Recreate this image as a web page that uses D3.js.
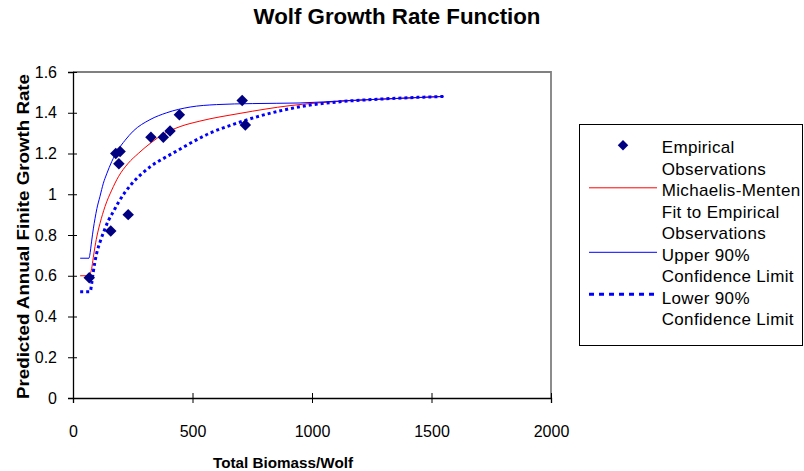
<!DOCTYPE html>
<html>
<head>
<meta charset="utf-8">
<script src="https://cdn.jsdelivr.net/npm/d3@7/dist/d3.min.js"></script>
<style>
    body { margin: 0; background: #fff; }
    text { font-family: Arial, "Liberation Sans", sans-serif; fill: #000; }
</style>
</head>
<body>
<svg id="SVG_CONTAINER" width="804" height="471"></svg>
<script>
let d3 = window.d3;

// observed points
const obsX = [68, 158, 231, 179, 197, 192, 326, 378, 406, 445, 708, 721];
const obsY = [0.59, 0.82, 0.90, 1.20, 1.21, 1.15, 1.28, 1.28, 1.31, 1.39, 1.46, 1.34];

// Michaelis-Menten fit (red)
const fitX = [30, 68, 72, 78, 85, 92, 103, 113, 134, 162, 190, 231, 273, 329, 378, 448, 531, 699, 908, 1117, 1350, 1550];
const fitY = [0.60, 0.60, 0.61, 0.635, 0.69, 0.743, 0.81, 0.857, 0.94, 1.02, 1.086, 1.152, 1.20, 1.255, 1.295, 1.332, 1.359, 1.397, 1.435, 1.456, 1.47, 1.48];

// upper 90% limit (blue)
const upX = [30, 67, 70, 78, 85, 92, 100, 113, 127, 141, 162, 187, 218, 252, 322, 392, 490, 600, 750, 950, 1150, 1350, 1550];
const upY = [0.686, 0.686, 0.70, 0.77, 0.83, 0.88, 0.93, 0.99, 1.054, 1.10, 1.16, 1.215, 1.265, 1.31, 1.366, 1.40, 1.428, 1.44, 1.445, 1.448, 1.46, 1.47, 1.48];

// lower 90% limit (dotted)
const loX = [30, 72, 78, 85, 92, 99, 113, 130, 148, 169, 190, 218, 245, 287, 329, 385, 441, 490, 573, 671, 769, 880, 978, 1117, 1300, 1550];
const loY = [0.522, 0.522, 0.56, 0.62, 0.67, 0.71, 0.765, 0.82, 0.87, 0.915, 0.96, 1.01, 1.05, 1.10, 1.14, 1.18, 1.217, 1.25, 1.30, 1.343, 1.38, 1.413, 1.435, 1.454, 1.468, 1.48];

const xTicks = [0, 500, 1000, 1500, 2000];
const yTicks = [0, 0.2, 0.4, 0.6, 0.8, 1, 1.2, 1.4, 1.6];

const legendLabels = [
    ["Empirical", "Observations"],
    ["Michaelis-Menten", "Fit to Empirical", "Observations"],
    ["Upper 90%", "Confidence Limit"],
    ["Lower 90%", "Confidence Limit"]
];

const MARGIN = {
    "LEFT": 73,
    "RIGHT": 253,
    "TOP": 72,
    "BOTTOM": 73,
};

const   width  = 804,
        height = 471;

let svg = d3.select("#SVG_CONTAINER");

let xScale = d3.scaleLinear()
    .domain([0, 2000])
    .range([MARGIN.LEFT, width - MARGIN.RIGHT]);

let yScale = d3.scaleLinear()
    .domain([0, 1.6])
    .range([height - MARGIN.BOTTOM, MARGIN.TOP]);

//title
svg.append("text")
    .attr("x", 397)
    .attr("y", 24)
    .attr("text-anchor", "middle")
    .attr("textLength", 287)
    .attr("lengthAdjust", "spacingAndGlyphs")
    .style("font-size", "22px")
    .style("font-weight", "bold")
    .text("Wolf Growth Rate Function");

//plot frame (top + right)
svg.append("path")
    .attr("d", `M${xScale(0)},${yScale(1.6)}H${xScale(2000)}V${yScale(0)}`)
    .attr("fill", "none")
    .attr("stroke", "#808080")
    .attr("stroke-width", 1.8);

//x axis
let xAxis = svg.append("g")
    .attr("transform", `translate(0, ${yScale(0)})`)
    .call(d3.axisBottom(xScale).tickValues(xTicks).tickSize(5).tickPadding(23).tickFormat(d3.format("d")));

//y axis
let yAxis = svg.append("g")
    .attr("transform", `translate(${xScale(0)}, 0)`)
    .call(d3.axisLeft(yScale).tickValues(yTicks).tickSize(5).tickPadding(11).tickFormat(d => String(+d.toFixed(1))));

[xAxis, yAxis].forEach(a => {
    a.select(".domain").attr("stroke", "#000").attr("stroke-width", 1.3);
    a.selectAll(".tick line").attr("stroke", "#000");
    a.selectAll("text").style("font-size", "16px").attr("fill", "#000");
});
// cross tick marks
xAxis.selectAll(".tick line").attr("y1", -5).attr("y2", 5);
yAxis.selectAll(".tick line").attr("x1", 4).attr("x2", -5);

//axis titles
svg.append("text")
    .attr("x", 283)
    .attr("y", 468)
    .attr("text-anchor", "middle")
    .attr("textLength", 140)
    .attr("lengthAdjust", "spacingAndGlyphs")
    .style("font-size", "15px")
    .style("font-weight", "bold")
    .text("Total Biomass/Wolf");

svg.append("text")
    .attr("transform", "translate(29, 236.5)rotate(-90)")
    .attr("text-anchor", "middle")
    .attr("textLength", 325)
    .attr("lengthAdjust", "spacingAndGlyphs")
    .style("font-size", "16px")
    .style("font-weight", "bold")
    .text("Predicted Annual Finite Growth Rate");

//lines
let line = d3.line()
    .x(d => xScale(d[0]))
    .y(d => yScale(d[1]))
    .curve(d3.curveMonotoneX);

let series = [
    { xs: fitX, ys: fitY, color: "#ff0000", w: 1, dash: null },
    { xs: upX, ys: upY, color: "#0000ff", w: 1, dash: null },
    { xs: loX, ys: loY, color: "#0000ff", w: 3, dash: "3,3" }
];

series.forEach(s => {
    svg.append("path")
        .datum(s.xs.map((x, i) => [x, s.ys[i]]))
        .attr("d", line)
        .attr("fill", "none")
        .attr("stroke", s.color)
        .attr("stroke-width", s.w)
        .attr("stroke-dasharray", s.dash);
});

//observations
let diamond = d3.symbol().type(d3.symbolDiamond2).size(84);

svg.selectAll(".obs")
    .data(obsX.map((x, i) => [x, obsY[i]]))
    .enter()
    .append("path")
        .attr("class", "obs")
        .attr("transform", d => `translate(${xScale(d[0])}, ${yScale(d[1])})`)
        .attr("d", diamond)
        .attr("fill", "#000080");

//legend
let legend = svg.append("g");

legend.append("rect")
    .attr("x", 579.5)
    .attr("y", 124.5)
    .attr("width", 223)
    .attr("height", 221)
    .attr("fill", "#fff")
    .attr("stroke", "#000")
    .attr("stroke-width", 1);

let lineH = 21.5;
let row = 0;
legendLabels.forEach((lines, k) => {
    let base = 153.3 + row * lineH;
    if (k === 0) {
        legend.append("path")
            .attr("transform", `translate(623, ${base - 8})`)
            .attr("d", d3.symbol().type(d3.symbolDiamond2).size(70))
            .attr("fill", "#000080");
    } else {
        let s = series[k - 1];
        legend.append("line")
            .attr("x1", 589).attr("x2", s.dash ? 659 : 657)
            .attr("y1", base - (s.dash ? 9.5 : 8.5)).attr("y2", base - (s.dash ? 9.5 : 8.5))
            .attr("stroke", s.color)
            .attr("stroke-width", s.dash ? 3 : 1)
            .attr("stroke-dasharray", s.dash ? "5,5" : null);
    }
    lines.forEach(t => {
        legend.append("text")
            .attr("x", 661.7)
            .attr("y", 153.3 + row * lineH)
            .style("font-size", "17px")
            .style("letter-spacing", "0.35px")
            .text(t);
        row++;
    });
});
</script>
</body>
</html>
